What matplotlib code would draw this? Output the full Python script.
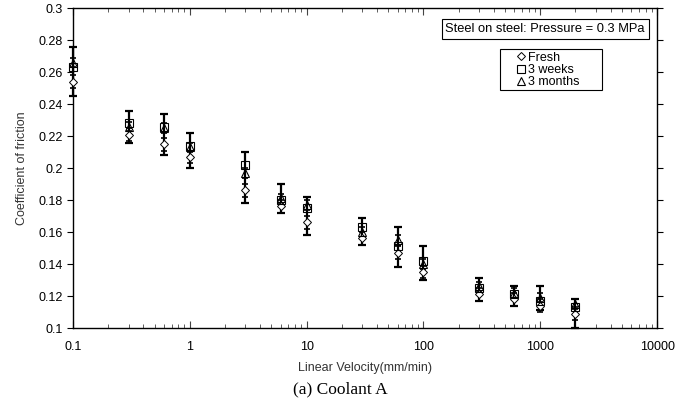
import numpy as np
import matplotlib.pyplot as plt
from matplotlib.patches import Rectangle

# linear velocity (mm/min)
vel = [0.1, 0.3, 0.6, 1, 3, 6, 10, 30, 60, 100, 300, 600, 1000, 2000]

# coefficient of friction
fresh = [0.254, 0.221, 0.215, 0.207, 0.186, 0.176, 0.166, 0.156, 0.147, 0.135, 0.121, 0.118, 0.114, 0.109]
weeks3 = [0.263, 0.228, 0.226, 0.214, 0.202, 0.180, 0.175, 0.163, 0.151, 0.142, 0.125, 0.121, 0.117, 0.113]
months3 = [0.266, 0.226, 0.225, 0.213, 0.197, 0.181, 0.177, 0.160, 0.155, 0.140, 0.126, 0.122, 0.119, 0.115]

# error bar ends (top / bottom)
bar_top = [0.276, 0.236, 0.234, 0.222, 0.210, 0.190, 0.182, 0.169, 0.163, 0.151, 0.131, 0.126, 0.126, 0.118]
bar_bot = [0.245, 0.216, 0.208, 0.200, 0.178, 0.172, 0.158, 0.152, 0.138, 0.130, 0.117, 0.114, 0.111, 0.100]

plt.rcParams['font.family'] = ['Liberation Sans', 'DejaVu Sans']

fig = plt.figure(figsize=(6.81, 4.08), dpi=100)
ax = fig.add_axes([0.107, 0.196, 0.858, 0.784])

w = np.array(weeks3)
ax.errorbar(vel, weeks3, yerr=[w - np.array(bar_bot), np.array(bar_top) - w],
            fmt='none', ecolor='black', elinewidth=1.6, capsize=3, capthick=1.6,
            zorder=2, clip_on=False)
# smaller extra caps for the other series
ax.errorbar(vel, fresh, yerr=0.004, fmt='none', ecolor='black', elinewidth=1.2,
            capsize=2.5, capthick=1.2, zorder=2, clip_on=False)
ax.errorbar(vel, months3, yerr=0.003, fmt='none', ecolor='black', elinewidth=1.2,
            capsize=2.5, capthick=1.2, zorder=2, clip_on=False)

ax.plot(vel, fresh, linestyle='none', marker='D', markersize=4.5, mfc='white',
        mec='black', mew=0.7, label='Fresh', zorder=3, clip_on=False)
ax.plot(vel, weeks3, linestyle='none', marker='s', markersize=6, mfc='none',
        mec='black', mew=0.8, label='3 weeks', zorder=3, clip_on=False)
ax.plot(vel, months3, linestyle='none', marker='^', markersize=6, mfc='none',
        mec='black', mew=0.8, label='3 months', zorder=3, clip_on=False)

ax.set_xscale('log')
ax.set_xlim(0.1, 10000)
ax.set_ylim(0.1, 0.3)
ax.set_yticks(np.arange(0.1, 0.301, 0.02))
ax.set_yticklabels(['0.1', '0.12', '0.14', '0.16', '0.18', '0.2', '0.22', '0.24', '0.26', '0.28', '0.3'])
ax.set_xticks([0.1, 1, 10, 100, 1000, 10000])
ax.set_xticklabels(['0.1', '1', '10', '100', '1000', '10000'])

ax.tick_params(axis='x', which='both', direction='in', top=True, labelsize=9,
               color='#444444', pad=9)
ax.tick_params(axis='x', which='major', length=5)
ax.tick_params(axis='x', which='minor', length=3)
ax.tick_params(axis='y', direction='out', right=True, length=4, labelsize=9)
for s in ax.spines.values():
    s.set_linewidth(1.0)

ax.set_xlabel('Linear Velocity(mm/min)', fontsize=9, color='#333333', labelpad=7)
ax.set_ylabel('Coefficient of friction', fontsize=9, color='#333333', labelpad=7)

ax.text(0.979, 0.954, 'Steel on steel: Pressure = 0.3 MPa', transform=ax.transAxes,
        ha='right', va='top', fontsize=9.3,
        bbox=dict(boxstyle='square,pad=0.3', fc='white', ec='black', lw=0.8))

# legend box drawn wider than its entries, as in the source
ax.add_patch(Rectangle((0.731, 0.745), 0.175, 0.127, transform=ax.transAxes,
                       fc='white', ec='black', lw=0.8, zorder=4))
leg = ax.legend(loc='upper left', bbox_to_anchor=(0.76, 0.868), fontsize=9,
                frameon=False, handlelength=0.5, handletextpad=0.3, borderpad=0.1,
                labelspacing=0.02, borderaxespad=0)
leg.set_zorder(5)

fig.text(0.5, 0.025, '(a) Coolant A', ha='center', va='bottom', fontsize=12.5,
         family='Liberation Serif')

fig.savefig('out.png', dpi=100)
